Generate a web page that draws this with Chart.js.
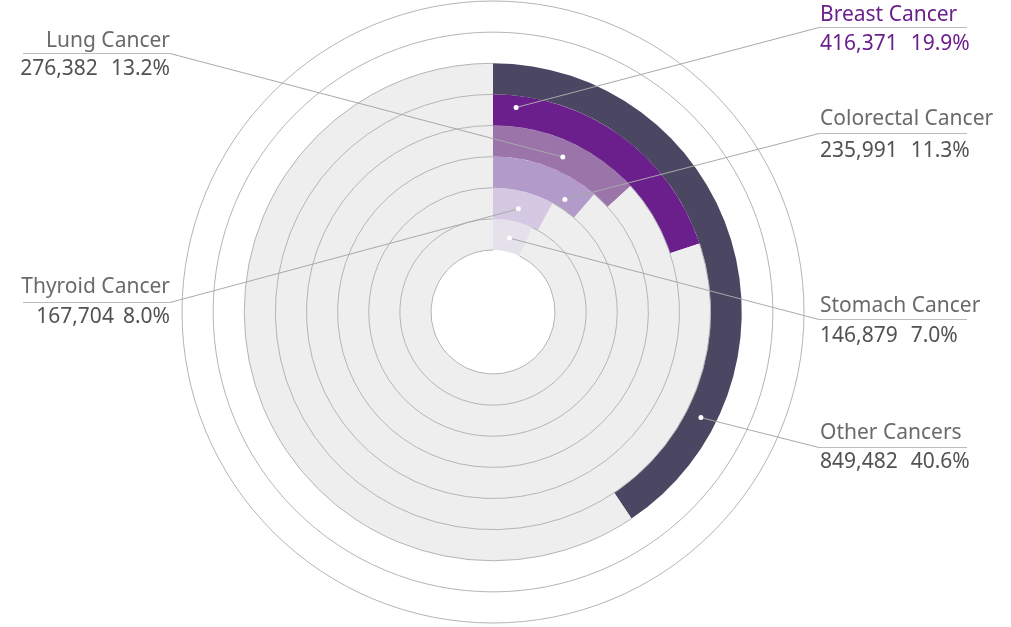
<!DOCTYPE html>
<html>
<head>
<meta charset="utf-8">
<script src="https://cdn.jsdelivr.net/npm/chart.js@4"></script>
<style>
  html, body { margin: 0; padding: 0; background: #fff; }
  #wrap { width: 1011px; height: 627px; position: relative; }
</style>
</head>
<body>
<div id="wrap"><canvas id="rings"></canvas></div>
<script>
// data, outer ring first
const cancerNames = ['Other Cancers', 'Breast Cancer', 'Lung Cancer', 'Colorectal Cancer', 'Thyroid Cancer', 'Stomach Cancer'];
const caseCounts = [849482, 416371, 276382, 235991, 167704, 146879];
const sharePct = [40.6, 19.9, 13.2, 11.3, 8.0, 7.0];

const ringColors = ['#4b4662', '#6b1f8c', '#9b74a9', '#b39bc9', '#d5c8e3', '#e5e1ea'];
const trackColor = '#edeeed';
const guideColor = '#b4b4b4';

// label placement (layout only)
const labelLayout = [
  { side: 'right', nameY: 439, numY: 468, lineY: 447, along: 0.80, across: 0.50, gap: 13 },
  { side: 'right', nameY: 21,  numY: 50,  lineY: 27,  along: 0.09, across: 0.62, gap: 13 },
  { side: 'left',  nameY: 47,  numY: 75,  lineY: 53,  along: 0.51, across: 0.47, gap: 13 },
  { side: 'right', nameY: 125, numY: 157, lineY: 133, along: 0.80, across: 0.30, gap: 13 },
  { side: 'left',  nameY: 293, numY: 323, lineY: 302, along: 0.48, across: 0.42, gap: 9 },
  { side: 'right', nameY: 312, numY: 342, lineY: 319, along: 0.50, across: 0.44, gap: 13 }
];
const highlightIdx = 1;

let datasets = [
  { guide: true, data: [100], backgroundColor: ['rgba(0,0,0,0)'] },
  { guide: true, data: [100], backgroundColor: ['rgba(0,0,0,0)'] }
];
sharePct.forEach((p, i) => {
  datasets.push({
    label: cancerNames[i],
    ringIdx: i,
    data: [p, +(100 - p).toFixed(1)],
    backgroundColor: [ringColors[i], trackColor]
  });
});

const ringDecor = {
  id: 'ringDecor',
  afterDatasetsDraw(chart) {
    const ctx = chart.ctx;
    const last = chart.data.datasets.length - 1;
    ctx.save();
    ctx.strokeStyle = guideColor;
    ctx.lineWidth = 1;
    chart.data.datasets.forEach((ds, i) => {
      const meta = chart.getDatasetMeta(i);
      const arc = ds.guide ? meta.data[0] : meta.data[1];
      const p = arc.getProps(['x', 'y', 'startAngle', 'endAngle', 'innerRadius', 'outerRadius'], true);
      ctx.beginPath();
      ctx.arc(p.x, p.y, p.outerRadius, p.startAngle, p.endAngle);
      ctx.stroke();
      if (i === last) {
        ctx.beginPath();
        ctx.arc(p.x, p.y, p.innerRadius, p.startAngle, p.endAngle);
        ctx.stroke();
      }
    });

    // labels
    chart.data.datasets.forEach((ds, i) => {
      if (ds.guide) return;
      const k = ds.ringIdx;
      const lay = labelLayout[k];
      const arc = chart.getDatasetMeta(i).data[0];
      const p = arc.getProps(['x', 'y', 'startAngle', 'endAngle', 'innerRadius', 'outerRadius'], true);
      const ang = p.startAngle + lay.along * (p.endAngle - p.startAngle);
      const rad = p.innerRadius + lay.across * (p.outerRadius - p.innerRadius);
      const dx = p.x + Math.cos(ang) * rad;
      const dy = p.y + Math.sin(ang) * rad;

      const lx0 = lay.side === 'right' ? 819 : 23;
      const lx1 = lay.side === 'right' ? 967 : 170;
      const anchorX = lay.side === 'right' ? lx0 : lx1;

      ctx.strokeStyle = '#a9a9a9';
      ctx.lineWidth = 1;
      ctx.beginPath();
      ctx.moveTo(dx, dy);
      ctx.lineTo(anchorX, lay.lineY + 0.5);
      ctx.stroke();

      ctx.strokeStyle = '#bdbdbd';
      ctx.beginPath();
      ctx.moveTo(lx0, lay.lineY + 0.5);
      ctx.lineTo(lx1, lay.lineY + 0.5);
      ctx.stroke();

      ctx.fillStyle = '#ffffff';
      ctx.beginPath();
      ctx.arc(dx, dy, 2.5, 0, Math.PI * 2);
      ctx.fill();

      const hl = k === highlightIdx;
      ctx.textBaseline = 'alphabetic';
      ctx.font = '400 21px "Noto Sans", "Open Sans", sans-serif';
      ctx.textAlign = lay.side === 'right' ? 'left' : 'right';
      const tx = lay.side === 'right' ? 820 : 170;
      ctx.fillStyle = hl ? '#6b1f8c' : '#6a6a6a';
      ctx.fillText(cancerNames[k], tx, lay.nameY);

      const countTxt = caseCounts[k].toLocaleString('en-US');
      const pctTxt = sharePct[k].toFixed(1) + '%';
      const wCount = ctx.measureText(countTxt).width;
      const wPct = ctx.measureText(pctTxt).width;
      const startX = lay.side === 'right' ? tx : tx - (wCount + lay.gap + wPct);
      ctx.textAlign = 'left';
      ctx.fillStyle = hl ? '#6b1f8c' : '#525252';
      ctx.fillText(countTxt, startX, lay.numY);
      ctx.fillText(pctTxt, startX + wCount + lay.gap, lay.numY);
    });
    ctx.restore();
  }
};

new Chart('rings', {
  type: 'doughnut',
  data: { labels: ['share', 'rest'], datasets: datasets },
  options: {
    responsive: true,
    maintainAspectRatio: false,
    animation: false,
    radius: 311,
    cutout: '19.94%',
    borderWidth: 0,
    layout: { padding: { left: 182, right: 207, top: 1, bottom: 4 } },
    plugins: { legend: { display: false }, tooltip: { enabled: false } },
    elements: { arc: { borderWidth: 0 } }
  },
  plugins: [ringDecor]
});
</script>
</body>
</html>
